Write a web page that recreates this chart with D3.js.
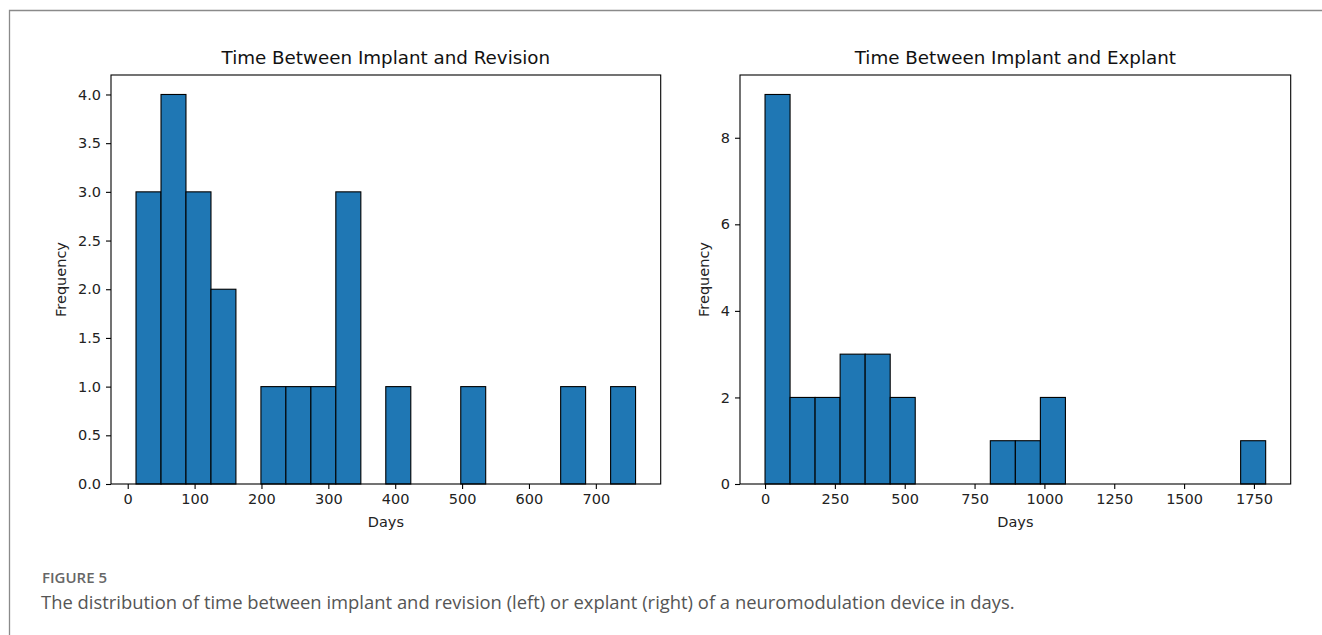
<!DOCTYPE html>
<html>
<head>
<meta charset="utf-8">
<script src="https://cdn.jsdelivr.net/npm/d3@7"></script>
<style>
  html, body { margin: 0; padding: 0; background: #fff; }
  svg { display: block; }
</style>
</head>
<body>
<svg id="chart" width="1322" height="635"></svg>
<script>
// ---- data ----
const revisionEdges = [12.4, 49.8, 87.1, 124.5, 161.8, 199.2, 236.5, 273.9, 311.2, 348.6, 385.9, 423.3, 460.6, 498.0, 535.3, 572.7, 610.0, 647.4, 684.7, 722.1, 759.4];
const revisionCounts = [3, 4, 3, 2, 0, 1, 1, 1, 3, 0, 1, 0, 0, 1, 0, 0, 0, 1, 0, 1];
const explantEdges = [0, 89.6, 179.2, 268.8, 358.4, 448.0, 537.6, 627.2, 716.8, 806.4, 896.0, 985.6, 1075.2, 1164.8, 1254.4, 1344.0, 1433.6, 1523.2, 1612.8, 1702.4, 1792.0];
const explantCounts = [9, 2, 2, 3, 3, 2, 0, 0, 0, 1, 1, 2, 0, 0, 0, 0, 0, 0, 0, 1];
const revisionXTicks = [0, 100, 200, 300, 400, 500, 600, 700];
const revisionYTicks = [0, 0.5, 1.0, 1.5, 2.0, 2.5, 3.0, 3.5, 4.0];
const explantXTicks = [0, 250, 500, 750, 1000, 1250, 1500, 1750];
const explantYTicks = [0, 2, 4, 6, 8];
const titles = ["Time Between Implant and Revision", "Time Between Implant and Explant"];
const xLabel = "Days";
const yLabel = "Frequency";
const figLabel = "FIGURE 5";
const caption = "The distribution of time between implant and revision (left) or explant (right) of a neuromodulation device in days.";

const svg = d3.select("#chart");
const FONT = "DejaVu Sans, sans-serif";

// frame
svg.append("path")
  .attr("d", "M9.5,640 L9.5,10.5 L1330,10.5")
  .attr("fill", "none").attr("stroke", "#8a8a8a").attr("stroke-width", 1.3);

function panel(cfg) {
  const {left, right, top, bottom, edges, counts, xDomain, yDomain, xTicks, yTicks, yFmt, title} = cfg;
  const x = d3.scaleLinear().domain(xDomain).range([left, right]);
  const y = d3.scaleLinear().domain(yDomain).range([bottom, top]);
  const g = svg.append("g");

  const bins = counts.map((c, i) => ({x0: edges[i], x1: edges[i + 1], c})).filter(d => d.c > 0);
  g.selectAll("rect.bar").data(bins).enter().append("rect")
    .attr("class", "bar")
    .attr("x", d => x(d.x0))
    .attr("width", d => x(d.x1) - x(d.x0))
    .attr("y", d => y(d.c))
    .attr("height", d => y(0) - y(d.c))
    .attr("fill", "#1f77b4")
    .attr("stroke", "#000")
    .attr("stroke-width", 1.1);

  // axes
  const xa = g.append("g").attr("transform", `translate(0,${bottom})`)
    .call(d3.axisBottom(x).tickValues(xTicks).tickSize(5).tickPadding(5).tickFormat(d3.format("d")));
  const ya = g.append("g").attr("transform", `translate(${left},0)`)
    .call(d3.axisLeft(y).tickValues(yTicks).tickSize(5).tickPadding(5).tickFormat(yFmt));
  [xa, ya].forEach(a => {
    a.select(".domain").remove();
    a.selectAll("line").attr("stroke", "#000").attr("stroke-width", 1.1);
    a.selectAll("text").attr("font-family", FONT).attr("font-size", 14.5).attr("fill", "#222");
  });

  // spines
  g.append("rect").attr("x", left).attr("y", top)
    .attr("width", right - left).attr("height", bottom - top)
    .attr("fill", "none").attr("stroke", "#000").attr("stroke-width", 1.1);

  g.append("text").attr("x", (left + right) / 2).attr("y", top - 11)
    .attr("text-anchor", "middle").attr("font-family", FONT).attr("font-size", 18.3)
    .attr("fill", "#111").text(title);
  g.append("text").attr("x", (left + right) / 2).attr("y", bottom + 43)
    .attr("text-anchor", "middle").attr("font-family", FONT).attr("font-size", 14.5)
    .attr("fill", "#222").text(xLabel);
  g.append("text")
    .attr("transform", `translate(${cfg.ylabX},${(top + bottom) / 2}) rotate(-90)`)
    .attr("text-anchor", "middle").attr("font-family", FONT).attr("font-size", 14.5)
    .attr("fill", "#222").text(yLabel);
}

panel({
  left: 111, right: 660.7, top: 75, bottom: 484,
  edges: revisionEdges, counts: revisionCounts,
  xDomain: [-25, 797], yDomain: [0, 4.2],
  xTicks: revisionXTicks, yTicks: revisionYTicks, yFmt: d3.format(".1f"),
  title: titles[0], ylabX: 66
});
panel({
  left: 740, right: 1290.7, top: 75, bottom: 484,
  edges: explantEdges, counts: explantCounts,
  xDomain: [-89.6, 1881.6], yDomain: [0, 9.45],
  xTicks: explantXTicks, yTicks: explantYTicks, yFmt: d3.format("d"),
  title: titles[1], ylabX: 709
});

// caption
svg.append("text").attr("x", 42).attr("y", 583)
  .attr("font-family", "Open Sans, sans-serif").attr("font-size", 15).attr("font-weight", 600)
  .attr("fill", "#666").text(figLabel);
const cap = svg.append("text").attr("x", 41).attr("y", 609)
  .attr("font-family", "Open Sans, sans-serif").attr("font-size", 16.5)
  .attr("fill", "#555").text(caption);
const w = cap.node().getComputedTextLength();
cap.attr("font-size", 16.5 * 974 / w);
</script>
</body>
</html>
